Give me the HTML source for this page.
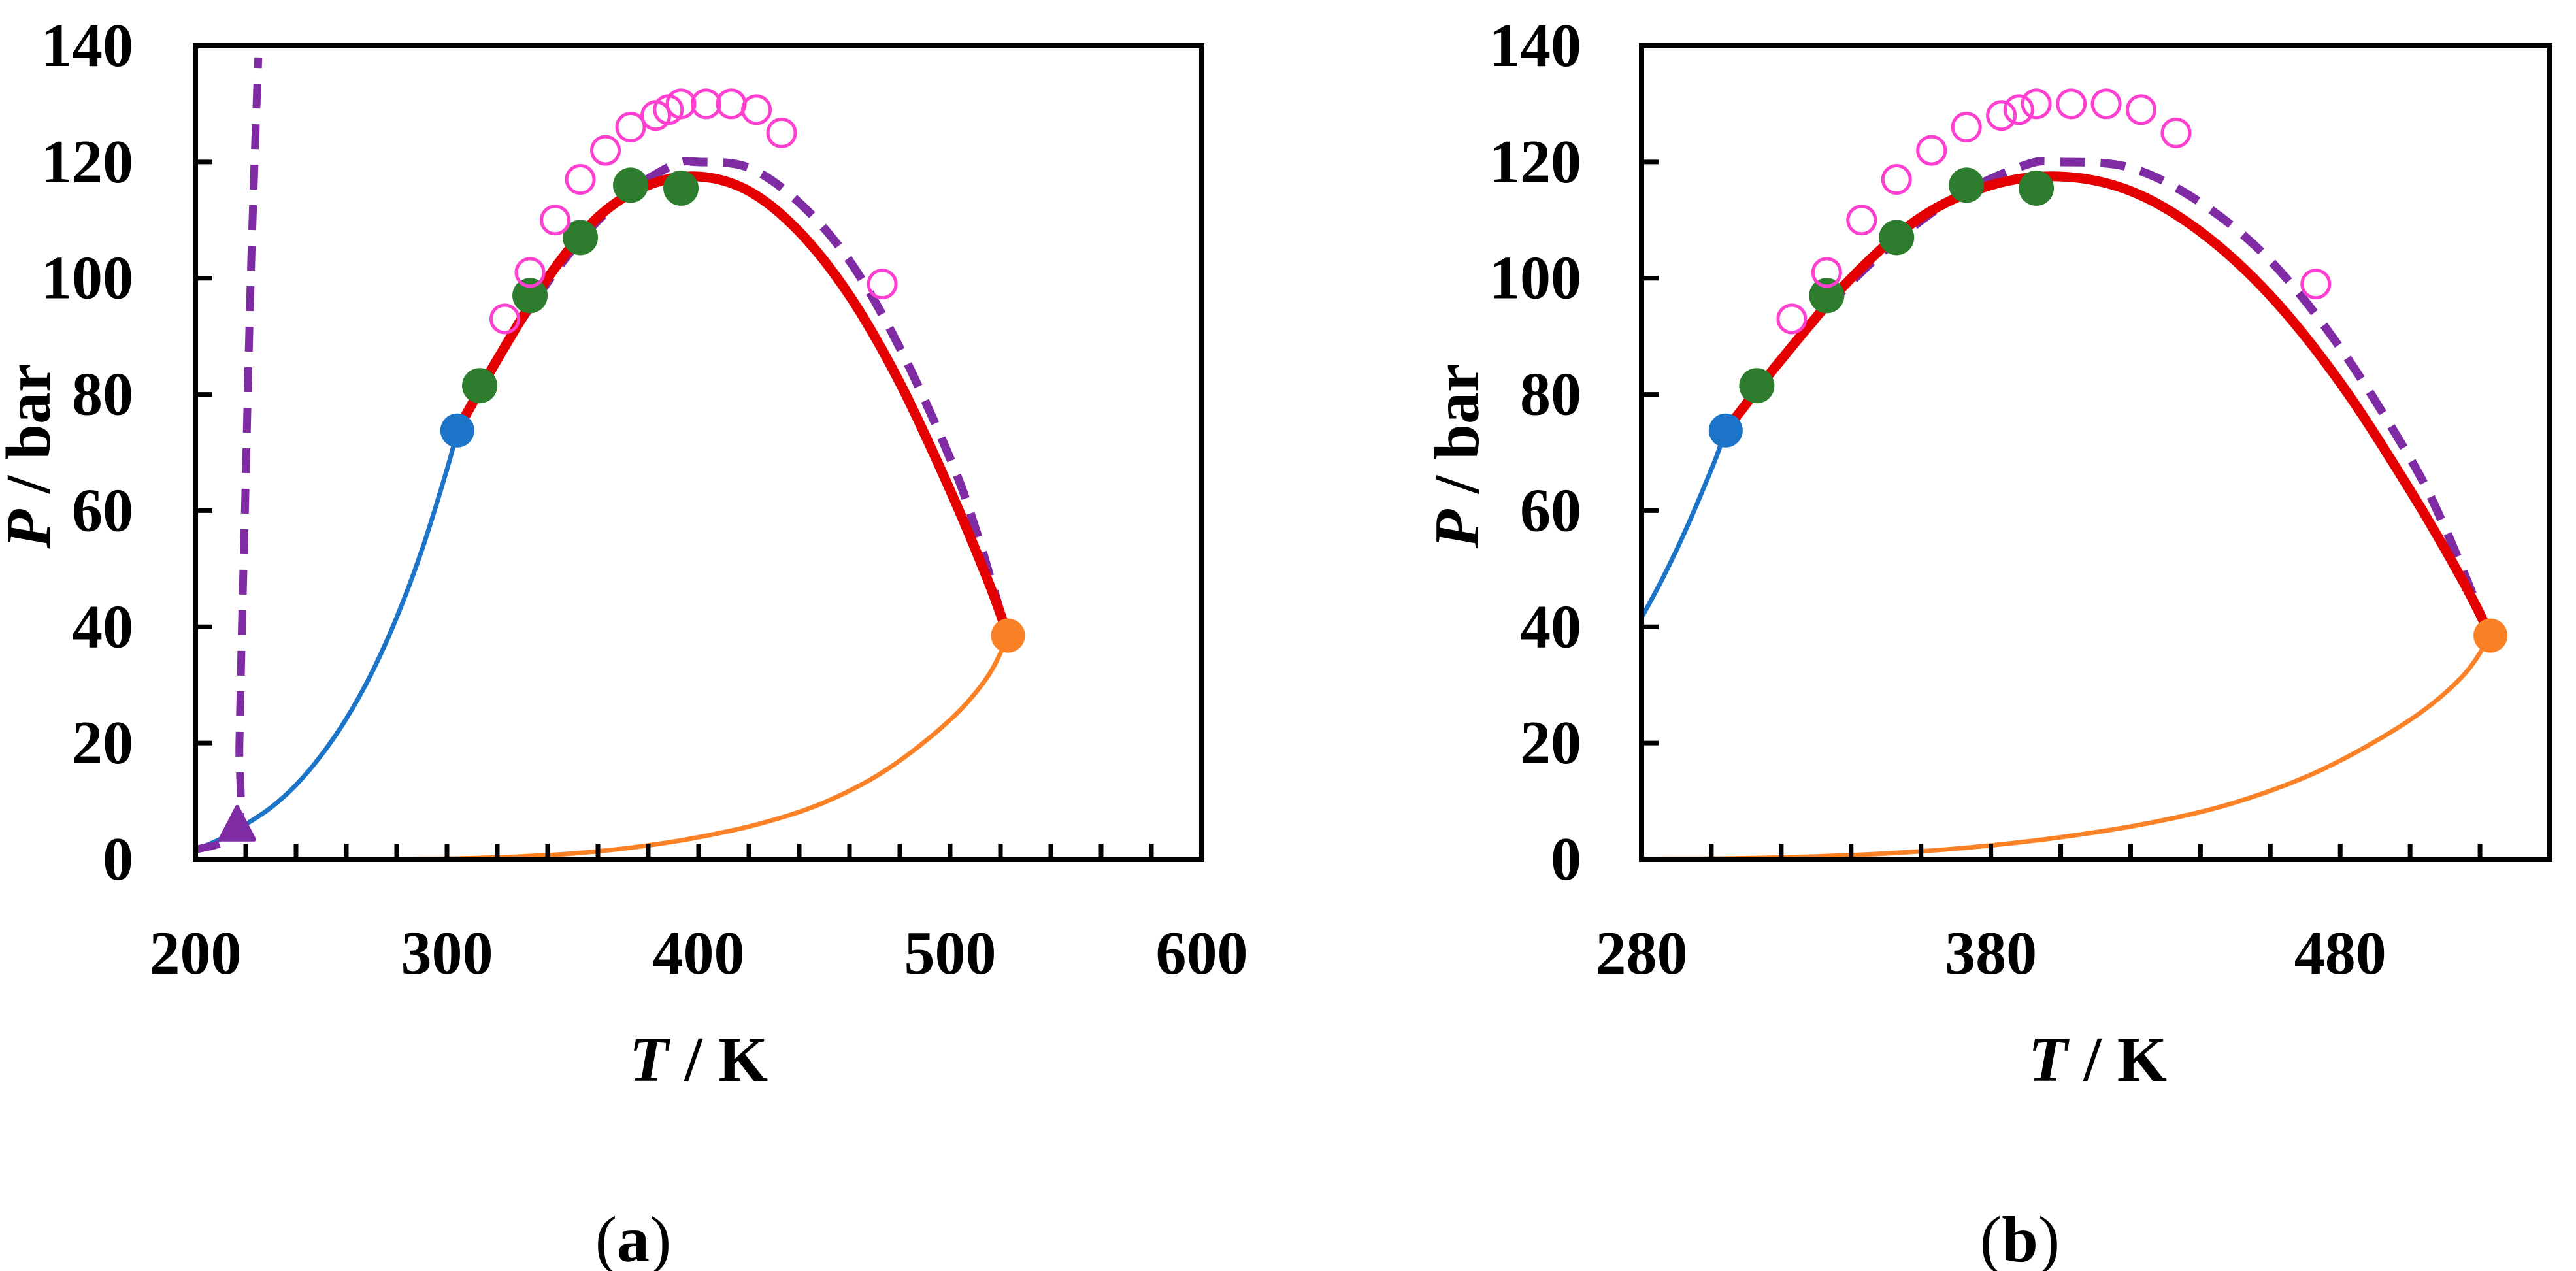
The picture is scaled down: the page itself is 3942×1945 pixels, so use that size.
<!DOCTYPE html>
<html><head><meta charset="utf-8">
<style>
html,body{margin:0;padding:0;background:#fff;}
svg{display:block;}
text{font-family:"Liberation Serif",serif;fill:#000;}
</style></head>
<body>
<svg id="chart" width="3942" height="1945" viewBox="0 0 3942 1945" xmlns="http://www.w3.org/2000/svg"></svg>
<script>
// ---- data ----
const vapT = [200, 210, 216.6, 220, 230, 240, 250, 260, 270, 280, 290, 300, 304.1];
const vapP = [1.6, 3.5, 5.2, 6.0, 8.9, 12.8, 17.9, 24.2, 32, 41.6, 53.2, 67.1, 73.8];
const vap2T = [200, 250, 300, 325, 350, 375, 400, 425, 450, 475, 500, 515, 523];
const vap2P = [0, 0.02, 0.1, 0.4, 1.0, 2.1, 3.8, 6.2, 9.8, 15.5, 24, 31.5, 38.5];
const critT = [304.1, 320, 340, 360, 380, 400, 420, 440, 460, 480, 500, 515, 523];
const critP = [73.8, 86, 100, 110.5, 116, 117.5, 115, 108, 97, 82, 63.5, 48, 38.5];
const modelT = [310, 330, 350, 370, 390, 400, 420, 440, 460, 480, 500, 510, 521];
const modelP = [79, 93, 105, 114, 119.5, 120, 119, 113, 103, 88, 69, 57, 41];
const meltT = [200, 216.6, 217.5, 218.5, 219.7, 220.8, 222, 223.5, 225];
const meltP = [1.6, 5.2, 20, 40, 60, 80, 100, 120, 138];
const tripleT = [216.6], tripleP = [5.2];
const cp1T = [304.1], cp1P = [73.8];
const cp2T = [523], cp2P = [38.5];
const expT = [313, 333, 353, 373, 393];
const expP = [81.5, 97, 107, 116, 115.5];
const exp2T = [323, 333, 343, 353, 363, 373, 383, 388, 393, 403, 413, 423, 433, 473];
const exp2P = [93, 101, 110, 117, 122, 126, 128, 129, 130, 130, 130, 129, 125, 99];
const yTicks = [0, 20, 40, 60, 80, 100, 120, 140];
const xTicksA = [200, 300, 400, 500, 600];
const xTicksB = [280, 380, 480];

const NS = "http://www.w3.org/2000/svg";
const svg = document.getElementById('chart');
function mk(tag, attrs, parent) {
  const e = document.createElementNS(NS, tag);
  for (const k in attrs) e.setAttribute(k, attrs[k]);
  (parent || svg).appendChild(e);
  return e;
}
function smoothPath(pts) {
  let d = `M${pts[0][0]},${pts[0][1]}`;
  for (let i = 0; i < pts.length - 1; i++) {
    const p0 = pts[Math.max(0, i - 1)], p1 = pts[i], p2 = pts[i + 1], p3 = pts[Math.min(pts.length - 1, i + 2)];
    const c1x = p1[0] + (p2[0] - p0[0]) / 6, c1y = p1[1] + (p2[1] - p0[1]) / 6;
    const c2x = p2[0] - (p3[0] - p1[0]) / 6, c2y = p2[1] - (p3[1] - p1[1]) / 6;
    d += ` C${c1x},${c1y} ${c2x},${c2y} ${p2[0]},${p2[1]}`;
  }
  return d;
}

function panel(id, x0, x1, tmin, tmax, tickStep, xLabels, labelRight, pTitleX, tTitleX, capX, cap) {
  const y0 = 1315, y1 = 70;
  const sx = t => x0 + (t - tmin) / (tmax - tmin) * (x1 - x0);
  const sy = p => y0 - p / 140 * (y0 - y1);
  const g = mk('g', {});
  
  
  const clip = mk('clipPath', {id: 'clip-' + id}, g);
  mk('rect', {x: x0, y: y1 - 40, width: x1 - x0 + 40, height: y0 - y1 + 40}, clip);
  const plot = mk('g', {'clip-path': `url(#clip-${id})`}, g);
  
  

  const line = (T, P, attrs, name) => {
    const pts = T.map((t, i) => [sx(t), sy(P[i])]);
    const e = mk('path', Object.assign({d: smoothPath(pts), fill: 'none', 'stroke-linecap': 'round', 'stroke-linejoin': 'round'}, attrs), plot);
    
    
  };
  line(vap2T, vap2P, {stroke: '#fb8127', 'stroke-width': 7}, 'heavy-vapor-pressure-curve');
  line(vapT, vapP, {stroke: '#1c74c8', 'stroke-width': 7}, 'co2-vapor-pressure-curve');
  if (id === 'a') {
    line(meltT, meltP, {stroke: '#7f2ba3', 'stroke-width': 12, 'stroke-dasharray': '38 24', 'stroke-linecap': 'butt'}, 'melting-curve');
  }
  line(modelT, modelP, {stroke: '#7f2ba3', 'stroke-width': 13, 'stroke-dasharray': '38 24', 'stroke-linecap': 'butt'}, 'model-critical-line');
  line(critT, critP, {stroke: '#e40000', 'stroke-width': 15}, 'critical-line');

  if (id === 'a') {
    tripleT.forEach((t, i) => {
      const cx = sx(t), cy = sy(tripleP[i]);
      const e = mk('polygon', {points: `${cx},${cy - 34} ${cx - 26},${cy + 16} ${cx + 26},${cy + 16}`, fill: '#7f2ba3', stroke: '#7f2ba3', 'stroke-width': 6, 'stroke-linejoin': 'round'}, plot);
      
      
    });
  }
  expT.forEach((t, i) => {
    const e = mk('circle', {cx: sx(t), cy: sy(expP[i]), r: 27, fill: '#2e7d2e'}, plot);
    
    
  });
  exp2T.forEach((t, i) => {
    const e = mk('circle', {cx: sx(t), cy: sy(exp2P[i]), r: 21, fill: 'none', stroke: '#ff3fd0', 'stroke-width': 5}, plot);
    
    
  });
  cp1T.forEach((t, i) => {
    const e = mk('circle', {cx: sx(t), cy: sy(cp1P[i]), r: 26, fill: '#1c74c8'}, plot);
    
    
  });
  cp2T.forEach((t, i) => {
    const e = mk('circle', {cx: sx(t), cy: sy(cp2P[i]), r: 26, fill: '#fb8127'}, plot);
    
    
  });

  // frame
  const fr = mk('rect', {x: x0, y: y1, width: x1 - x0, height: y0 - y1, fill: 'none', stroke: '#000', 'stroke-width': 8}, g);
  
  
  // ticks
  for (let t = tmin + tickStep; t < tmax - 0.01; t += tickStep) {
    const e = mk('line', {x1: sx(t), x2: sx(t), y1: y0, y2: y0 - 24, stroke: '#000', 'stroke-width': 7}, g);
    
    
  }
  yTicks.forEach(p => {
    if (p > 0 && p < 140) {
      const e = mk('line', {x1: x0, x2: x0 + 26, y1: sy(p), y2: sy(p), stroke: '#000', 'stroke-width': 7}, g);
      
      
    }
    const tx = mk('text', {x: labelRight, y: sy(p) + 31, 'font-size': 94, 'font-weight': 'bold', 'text-anchor': 'end'}, g);
    tx.textContent = p;
    
    
  });
  xLabels.forEach(t => {
    const tx = mk('text', {x: sx(t), y: 1490, 'font-size': 94, 'font-weight': 'bold', 'text-anchor': 'middle'}, g);
    tx.textContent = t;
    
    
  });
  const yt = mk('text', {x: 0, y: 0, 'font-size': 98, 'font-weight': 'bold', 'text-anchor': 'middle', transform: `translate(${pTitleX + 34},698) rotate(-90)`}, g);
  yt.innerHTML = '<tspan font-style="italic">P</tspan> / bar';
  
  
  const xt = mk('text', {x: tTitleX, y: 1654, 'font-size': 98, 'font-weight': 'bold', 'text-anchor': 'middle'}, g);
  xt.innerHTML = '<tspan font-style="italic">T</tspan> / K';
  
  
  const ct = mk('text', {x: capX, y: 1930, 'font-size': 100, 'text-anchor': 'middle'}, g);
  ct.innerHTML = '(<tspan font-weight="bold">' + cap + '</tspan>)';
  
  
}
panel('a', 299, 1839, 200, 600, 20, xTicksA, 204, 42, 1069, 969, 'a');
panel('b', 2512, 3902, 280, 540, 20, xTicksB, 2420, 2228, 3210, 3091, 'b');
</script>
</body></html>
